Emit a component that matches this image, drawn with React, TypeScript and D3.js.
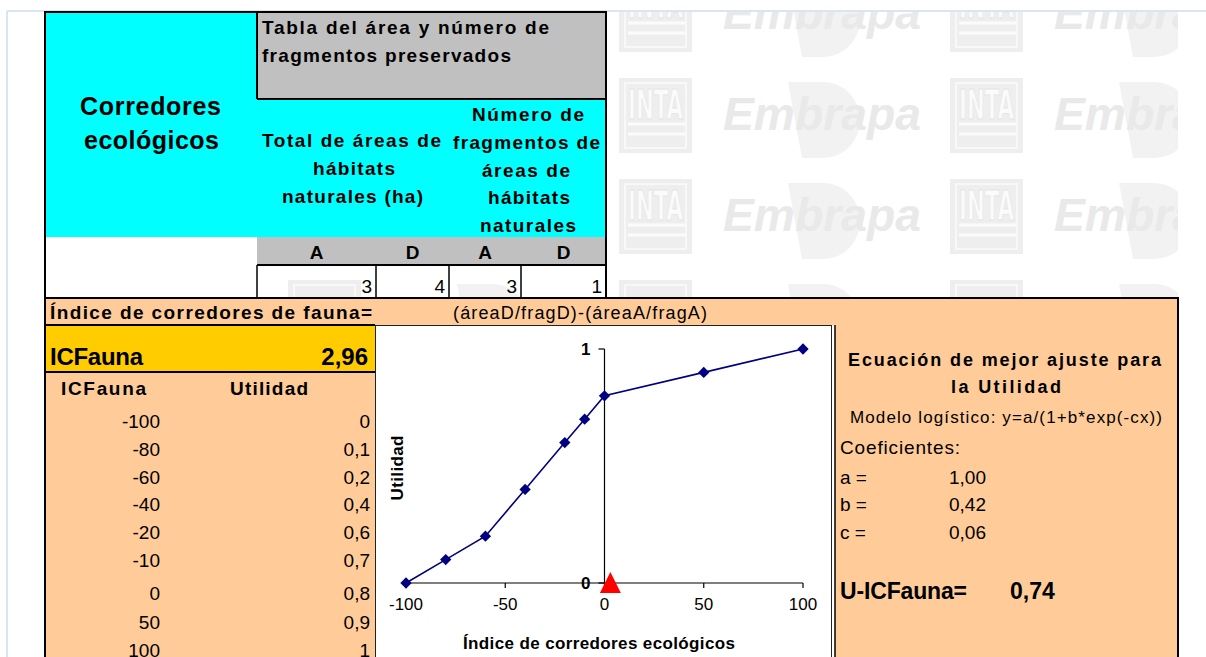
import React from "react";
import * as d3 from "d3";

// Utility curve: ecological corridor index vs. utility
const icFauna = [-100, -80, -60, -40, -20, -10, 0, 50, 100];
const utilidad = [0, 0.1, 0.2, 0.4, 0.6, 0.7, 0.8, 0.9, 1];
const xTicks = [-100, -50, 0, 50, 100];
const yTicks = [0, 1];

// Preserved area / fragment inputs
const inputHeaders = ["A", "D", "A", "D"];
const inputValues = [3, 4, 3, 1];

// Results
const icFaunaValue = 2.96;
const coefNames = ["a", "b", "c"];
const coefValues = [1.0, 0.42, 0.06];
const uIcFauna = 0.74;

const FONT = "'Liberation Sans', Arial, Helvetica, sans-serif";
const CYAN = "#00ffff";
const GRAY = "#c0c0c0";
const ORANGE = "#ffcc99";
const YELLOW = "#ffcc00";
const NAVY = "#000080";

const comma = (s: string) => s.replace(".", ",");
const fmt2 = (v: number) => comma(d3.format(".2f")(v));

// layout
const inputEdges = [257, 376, 449, 521, 606];
const tableRowY = [421, 449, 477, 504, 532, 560, 593, 622, 650];

type TxtProps = {
  x: number;
  y: number;
  w?: number;
  size: number;
  bold?: boolean;
  italic?: boolean;
  anchor?: "start" | "middle" | "end";
  fill?: string;
  family?: string;
  transform?: string;
  children: React.ReactNode;
};

function Txt({ x, y, w, size, bold, italic, anchor = "start", fill = "#000", family = FONT, transform, children }: TxtProps) {
  return (
    <text
      x={x}
      y={y}
      fontFamily={family}
      fontSize={size}
      fontWeight={bold ? 700 : 400}
      fontStyle={italic ? "italic" : "normal"}
      textAnchor={anchor}
      dominantBaseline="central"
      fill={fill}
      transform={transform}
      {...(w ? { textLength: w, lengthAdjust: "spacing" } : {})}
    >
      {children}
    </text>
  );
}

// One repeat of the background logo pattern; `withText` false draws only the shapes
function WatermarkTile({ x0, y0, withText }: { x0: number; y0: number; withText: boolean }) {
  return (
    <g>
      <rect x={x0} y={y0} width={73} height={75} fill="#eeeeee" />
      <rect x={x0 + 6} y={y0 + 5} width={61} height={65} fill="none" stroke="#fbfbfb" strokeWidth={1.5} />
      {withText && (
        <text
          x={x0 + 9}
          y={y0 + 41}
          fontFamily="'DejaVu Sans Condensed', 'DejaVu Sans', sans-serif"
          fontWeight={700}
          fontSize={40}
          fill="#fbfbfb"
          stroke="#e4e4e4"
          strokeWidth={0.8}
          textLength={55}
          lengthAdjust="spacingAndGlyphs"
        >
          INTA
        </text>
      )}
      <line x1={x0 + 9} x2={x0 + 66} y1={y0 + 46} y2={y0 + 46} stroke="#fbfbfb" strokeWidth={3} />
      <line x1={x0 + 9} x2={x0 + 66} y1={y0 + 56} y2={y0 + 56} stroke="#fbfbfb" strokeWidth={3} />
      <path
        d={`M${x0 + 169},${y0 + 4} L${x0 + 205},${y0 + 4} A36 38 0 0 1 ${x0 + 205},${y0 + 80} L${x0 + 183},${y0 + 80} Z`}
        fill="#f2f2f2"
      />
      {withText && (
        <text
          x={x0 + 104}
          y={y0 + 52}
          fontFamily={FONT}
          fontWeight={700}
          fontStyle="italic"
          fontSize={46}
          fill="#e9e9e9"
          textLength={198}
          lengthAdjust="spacingAndGlyphs"
        >
          Embrapa
        </text>
      )}
    </g>
  );
}

function Watermark() {
  const cols = [619, 619 + 331];
  const rows = [78 - 101, 78, 78 + 101];
  return (
    <g clipPath="url(#wmClip)">
      {rows.map((ry) => cols.map((cx) => <WatermarkTile key={`${cx}-${ry}`} x0={cx} y0={ry} withText />))}
      {/* bottom strip, only the tops of the logos show */}
      {[619 - 331, 619, 619 + 331].map((cx) => (
        <WatermarkTile key={`b${cx}`} x0={cx} y0={78 + 202} withText={false} />
      ))}
    </g>
  );
}

function UtilityChart() {
  const x = d3.scaleLinear().domain([-100, 100]).range([406, 803]);
  const y = d3.scaleLinear().domain([0, 1]).range([583, 349]);
  const pts: [number, number][] = icFauna.map((v, i) => [v, utilidad[i]]);
  const line = d3
    .line<[number, number]>()
    .x((d) => x(d[0]))
    .y((d) => y(d[1]));
  const diamond = d3.symbol().type(d3.symbolSquare).size(64)() as string;
  const cx = x(icFaunaValue);
  const cy = y(0);
  const x0 = x(0);
  return (
    <g>
      {/* x axis */}
      <line x1={x(-100)} x2={x(100)} y1={y(0)} y2={y(0)} stroke="#000" strokeWidth={1.2} />
      {xTicks.map((t) => (
        <g key={t}>
          <line x1={x(t)} x2={x(t)} y1={y(0)} y2={y(0) + 5} stroke="#000" strokeWidth={1.2} />
          <Txt x={x(t)} y={604} size={17} anchor="middle">
            {String(t)}
          </Txt>
        </g>
      ))}
      {/* y axis crossing at zero */}
      <line x1={x0} x2={x0} y1={y(0)} y2={y(1)} stroke="#000" strokeWidth={1.2} />
      {yTicks.map((t) => (
        <g key={t}>
          <line x1={x0 - 6} x2={x0} y1={y(t)} y2={y(t)} stroke="#000" strokeWidth={1.2} />
          <Txt x={x0 - 14} y={y(t)} size={17} bold anchor="end">
            {String(t)}
          </Txt>
        </g>
      ))}
      <path d={line(pts) as string} fill="none" stroke={NAVY} strokeWidth={1.6} />
      {pts.map((d, i) => (
        <path key={i} d={diamond} transform={`translate(${x(d[0])},${y(d[1])}) rotate(45)`} fill={NAVY} />
      ))}
      {/* current index marker */}
      <path d={`M${cx},${cy - 11} L${cx + 10.5},${cy + 10} L${cx - 10.5},${cy + 10} Z`} fill="#ff0000" />
      <Txt x={397} y={468} size={17} bold anchor="middle" w={65} transform="rotate(-90 397 468)">
        Utilidad
      </Txt>
      <Txt x={463} y={643} size={17} bold w={272}>
        Índice de corredores ecológicos
      </Txt>
    </g>
  );
}

export default function App() {
  return (
    <div style={{ position: "absolute", left: 0, top: 0 }}>
      <svg width={1206} height={657} viewBox="0 0 1206 657" style={{ display: "block" }}>
        <defs>
          <clipPath id="wmClip">
            <rect x={257} y={12} width={921} height={286} />
          </clipPath>
        </defs>
        <rect x={0} y={0} width={1206} height={657} fill="#fff" />
        {/* page frame */}
        <line x1={7} x2={1206} y1={11} y2={11} stroke="#dbe5f1" strokeWidth={2} />
        <line x1={7} x2={7} y1={11} y2={657} stroke="#dbe5f1" strokeWidth={2} />

        <Watermark />

        {/* fills */}
        <rect x={45} y={12} width={561} height={225} fill={CYAN} />
        <rect x={257} y={12} width={349} height={87} fill={GRAY} />
        <rect x={45} y={237} width={212} height={61} fill="#fff" />
        <rect x={257} y={237} width={349} height={28} fill={GRAY} />
        <rect x={45} y={298} width={1133} height={27} fill={ORANGE} />
        <rect x={45} y={325} width={330} height={47} fill={YELLOW} />
        <rect x={45} y={372} width={330} height={285} fill={ORANGE} />
        <rect x={835} y={325} width={343} height={332} fill={ORANGE} />
        <rect x={375} y={325} width={460} height={332} fill="#fff" />

        {/* cell borders */}
        <g stroke="#000" strokeWidth={2} fill="none">
          <line x1={45} x2={45} y1={11} y2={657} />
          <line x1={44} x2={607} y1={12} y2={12} />
          <line x1={606} x2={606} y1={11} y2={298} />
          <line x1={257} x2={257} y1={12} y2={99} />
          <line x1={257} x2={606} y1={99} y2={99} />
          <line x1={257} x2={606} y1={265} y2={265} />
          {inputEdges.slice(0, -1).map((ex) => (
            <line key={ex} x1={ex} x2={ex} y1={265} y2={298} strokeWidth={1.5} />
          ))}
          <line x1={44} x2={1179} y1={298} y2={298} />
          <line x1={1178} x2={1178} y1={297} y2={657} />
          <line x1={45} x2={375} y1={325} y2={325} />
          <line x1={45} x2={375} y1={372} y2={372} />
          <line x1={835} x2={835} y1={325} y2={657} strokeWidth={1.5} />
        </g>
        <rect x={375.5} y={325.5} width={456} height={340} fill="none" stroke="#222" strokeWidth={1} />

        {/* header texts */}
        <Txt x={262} y={27} size={19} bold w={287}>Tabla del área y número de</Txt>
        <Txt x={262} y={55} size={19} bold w={249}>fragmentos preservados</Txt>
        <Txt x={80} y={106} size={25} bold w={141}>Corredores</Txt>
        <Txt x={84} y={140} size={25} bold w={135}>ecológicos</Txt>
        <Txt x={262} y={140} size={19} bold w={179}>Total de áreas de</Txt>
        <Txt x={313} y={168} size={19} bold w={82}>hábitats</Txt>
        <Txt x={282} y={196} size={19} bold w={141}>naturales (ha)</Txt>
        <Txt x={472} y={114} size={19} bold w={112}>Número de</Txt>
        <Txt x={453} y={142} size={19} bold w={147}>fragmentos de</Txt>
        <Txt x={482} y={170} size={19} bold w={88}>áreas de</Txt>
        <Txt x={488} y={197} size={19} bold w={82}>hábitats</Txt>
        <Txt x={480} y={225} size={19} bold w={96}>naturales</Txt>

        {inputHeaders.map((h, i) => (
          <Txt key={i} x={(inputEdges[i] + inputEdges[i + 1]) / 2} y={252} size={19} bold anchor="middle">
            {h}
          </Txt>
        ))}
        {inputValues.map((v, i) => (
          <Txt key={i} x={inputEdges[i + 1] - 4} y={286} size={19} anchor="end">
            {String(v)}
          </Txt>
        ))}

        <Txt x={50} y={312} size={19} bold w={322}>Índice de corredores de fauna=</Txt>
        <Txt x={453} y={313} size={18} w={254}>(áreaD/fragD)-(áreaA/fragA)</Txt>

        <Txt x={50} y={356} size={24} bold w={93}>ICFauna</Txt>
        <Txt x={368} y={356} size={24} bold anchor="end">{fmt2(icFaunaValue)}</Txt>

        <Txt x={61} y={388} size={19} bold w={85}>ICFauna</Txt>
        <Txt x={230} y={388} size={19} bold w={78}>Utilidad</Txt>
        {icFauna.map((v, i) => (
          <g key={i}>
            <Txt x={160} y={tableRowY[i]} size={19} anchor="end">{String(v)}</Txt>
            <Txt x={370} y={tableRowY[i]} size={19} anchor="end">{comma(String(utilidad[i]))}</Txt>
          </g>
        ))}

        <UtilityChart />

        {/* fit panel */}
        <Txt x={848} y={360} size={18} bold w={313}>Ecuación de mejor ajuste para</Txt>
        <Txt x={951} y={387} size={18} bold w={110}>la  Utilidad</Txt>
        <Txt x={850} y={417} size={17} w={312}>Modelo logístico: y=a/(1+b*exp(-cx))</Txt>
        <Txt x={840} y={447} size={19} w={120}>Coeficientes:</Txt>
        {coefNames.map((n, i) => (
          <g key={n}>
            <Txt x={840} y={477 + i * 27.5} size={19}>{`${n} =`}</Txt>
            <Txt x={986} y={477 + i * 27.5} size={19} anchor="end">{fmt2(coefValues[i])}</Txt>
          </g>
        ))}
        <Txt x={840} y={591} size={23} bold w={127}>U-ICFauna=</Txt>
        <Txt x={1010} y={591} size={23} bold>{fmt2(uIcFauna)}</Txt>
      </svg>
    </div>
  );
}
